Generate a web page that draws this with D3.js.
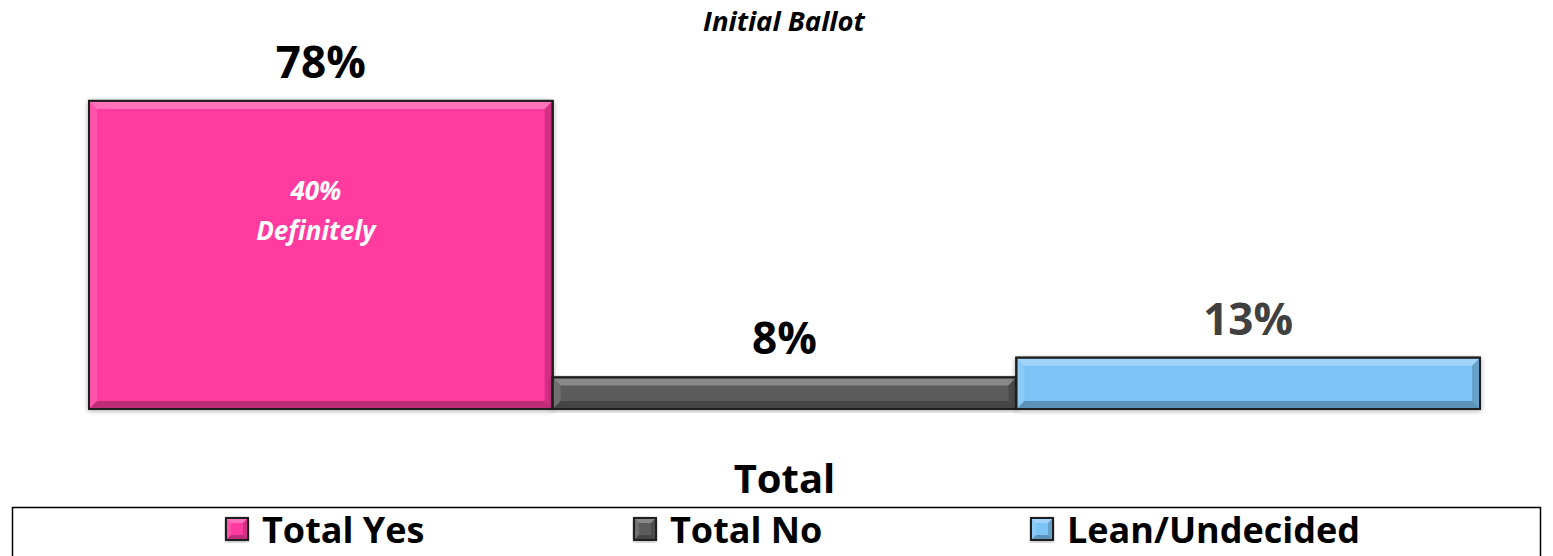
<!DOCTYPE html>
<html><head><meta charset="utf-8">
<script src="https://cdn.jsdelivr.net/npm/d3@7"></script>
<style>body{margin:0;background:#fff}svg{display:block}</style>
</head><body>
<svg id="c" width="1553" height="556"></svg>
<script>
const categories = ["Total Yes", "Total No", "Lean/Undecided"];
const values = [78, 8, 13];
const valueLabels = ["78%", "8%", "13%"];
const innerLabel = ["40%", "Definitely"];
const title = "Initial Ballot";
const axisCategory = "Total";
const colors = ["#FF3BA0", "#5C5C5C", "#7DC4F6"];
const labelColors = ["#000", "#000", "#404040"];

const svg = d3.select("#c");
const font = "'Open Sans', Lato, sans-serif";
const defs = svg.append("defs");
const f = defs.append("filter").attr("id","sh").attr("x","-5%").attr("y","-5%").attr("width","110%").attr("height","115%");
f.append("feDropShadow").attr("dx",0).attr("dy",1).attr("stdDeviation",2.5).attr("flood-color","#000").attr("flood-opacity",0.35);

const x = d3.scaleBand().domain(categories).range([89, 1480]).padding(0);
const y = d3.scaleLinear().domain([0, 100]).range([409, 14]);

function bevel(g, x0, y0, w, h, b, col) {
  g.append("rect").attr("x",x0).attr("y",y0).attr("width",w).attr("height",h)
    .attr("fill",col).attr("stroke","#1e1e1e").attr("stroke-width",2).attr("filter","url(#sh)");
  const bb = Math.min(b, h/2, w/2);
  const polys = [
    {p:[[x0,y0],[x0+w,y0],[x0+w-bb,y0+bb],[x0+bb,y0+bb]], c:"#fff", o:0.28},
    {p:[[x0,y0],[x0+bb,y0+bb],[x0+bb,y0+h-bb],[x0,y0+h]], c:"#fff", o:0.12},
    {p:[[x0+w,y0],[x0+w,y0+h],[x0+w-bb,y0+h-bb],[x0+w-bb,y0+bb]], c:"#000", o:0.18},
    {p:[[x0,y0+h],[x0+bb,y0+h-bb],[x0+w-bb,y0+h-bb],[x0+w,y0+h]], c:"#000", o:0.25}
  ];
  polys.forEach(q => g.append("polygon").attr("points", q.p.map(d=>d.join(",")).join(" "))
    .attr("fill", q.c).attr("fill-opacity", q.o));
  g.append("rect").attr("x",x0).attr("y",y0).attr("width",w).attr("height",h)
    .attr("fill","none").attr("stroke","#1e1e1e").attr("stroke-width",2);
}

// title
svg.append("text").attr("x",784).attr("y",31).attr("text-anchor","middle")
  .attr("font-family",font).attr("font-weight","bold").attr("font-style","italic")
  .attr("font-size",27.5).text(title);

const bars = svg.append("g");
categories.forEach((c,i) => {
  const g = bars.append("g");
  bevel(g, x(c), y(values[i]), x.bandwidth(), y(0)-y(values[i]), 8, colors[i]);
});

// value labels
svg.append("g").selectAll("text").data(categories).join("text")
  .attr("x", d => x(d) + x.bandwidth()/2)
  .attr("y", (d,i) => y(values[i]) - 23)
  .attr("text-anchor","middle").attr("font-family",font).attr("font-weight","bold")
  .attr("font-size",44).attr("fill",(d,i)=>labelColors[i])
  .text((d,i)=>valueLabels[i]);

// inner label
const il = svg.append("text").attr("text-anchor","middle").attr("font-family",font)
  .attr("font-weight","bold").attr("font-style","italic").attr("font-size",26).attr("fill","#fff");
innerLabel.forEach((t,k)=> il.append("tspan").attr("x", x(categories[0]) + x.bandwidth()/2 - 5)
  .attr("y", 200 + k*40).text(t));

// axis category
svg.append("text").attr("x",(x.range()[0]+x.range()[1])/2).attr("y",493).attr("text-anchor","middle")
  .attr("font-family",font).attr("font-weight","bold").attr("font-size",40).text(axisCategory);

// legend
svg.append("path").attr("d","M12.5,560 V507.5 H1540.5 V560").attr("fill","none").attr("stroke","#000").attr("stroke-width",1.5);
const legX = [226, 634, 1031];
categories.forEach((c,i)=>{
  const g = svg.append("g");
  bevel(g, legX[i], 518, 22, 22, 5, colors[i]);
  g.append("text").attr("x", legX[i]+36).attr("y", 543).attr("font-family",font)
    .attr("font-weight","bold").attr("font-size",36).text(c);
});
</script>
</body></html>
